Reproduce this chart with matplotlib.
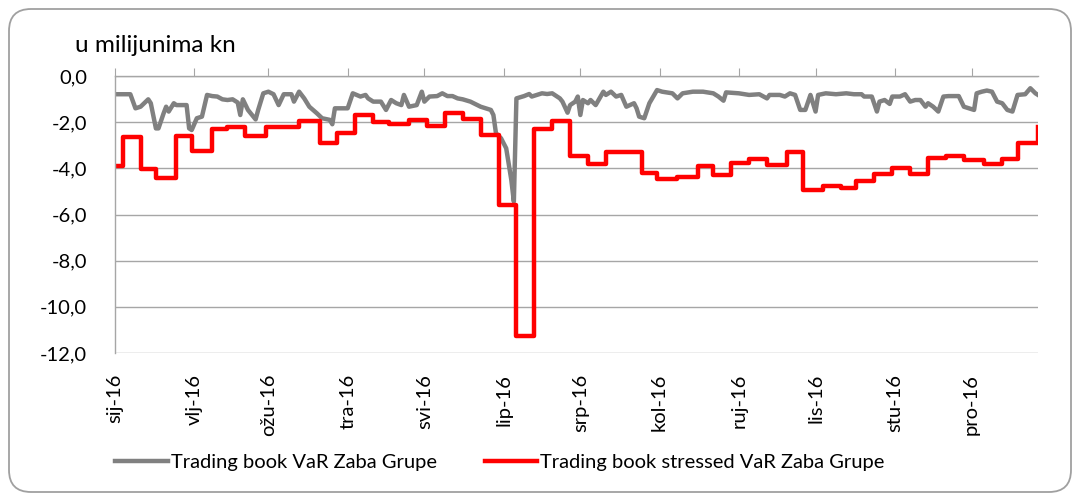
import pandas as pd
import matplotlib
matplotlib.use('Agg')
import matplotlib.pyplot as plt
from matplotlib.patches import FancyBboxPatch

plt.rcParams['font.family'] = ['Lato', 'DejaVu Sans']

# month labels (Croatian short names)
months = ['sij-16', 'vlj-16', 'ožu-16', 'tra-16', 'svi-16', 'lip-16',
          'srp-16', 'kol-16', 'ruj-16', 'lis-16', 'stu-16', 'pro-16']

# Trading book VaR: day of year 2016 (0 = 1 Jan) and value in mil. kn
var_day = [0, 6, 8, 10, 13, 14, 16, 17, 19, 20, 21, 23, 24, 28, 29, 30, 32, 34,
           36, 38, 40, 42, 44, 46, 48, 49, 50, 52, 55, 56, 58, 60, 62, 64, 66,
           69, 70, 72, 74, 76, 79, 81, 84, 85, 86, 91, 93, 96, 98, 99, 101,
           104, 106, 108, 110, 112, 113, 115, 118, 120, 121, 123, 126, 128,
           130, 132, 134, 136, 139, 143, 147, 148, 149, 151, 153, 155, 156,
           157, 160, 162, 163, 165, 167, 169, 171, 174, 175, 177, 178, 180,
           181, 182, 183, 185, 186, 188, 191, 192, 194, 196, 198, 200, 203,
           204, 205, 207, 209, 212, 214, 218, 220, 222, 226, 230, 234, 236,
           238, 239, 244, 248, 252, 255, 256, 260, 262, 264, 266, 268, 270,
           272, 274, 275, 278, 282, 286, 289, 292, 293, 296, 298, 299, 301,
           303, 304, 307, 309, 311, 313, 315, 317, 318, 320, 322, 324, 326,
           330, 332, 334, 336, 337, 339, 341, 343, 345, 347, 349, 351, 353,
           356, 358, 360, 361]
var_val = [-0.79, -0.79, -1.40, -1.33, -1.01, -1.18, -2.27, -2.27, -1.62, -1.33,
           -1.54, -1.18, -1.26, -1.26, -2.27, -2.34, -1.83, -1.76, -0.82, -0.87,
           -0.89, -1.01, -1.04, -1.01, -1.15, -1.69, -1.01, -1.47, -1.88, -1.47,
           -0.75, -0.68, -0.79, -1.26, -0.79, -0.79, -1.11, -0.68, -0.97, -1.33,
           -1.62, -1.83, -1.90, -2.09, -1.40, -1.40, -0.75, -0.89, -0.82, -0.97,
           -1.11, -1.11, -1.47, -1.04, -1.18, -1.26, -0.82, -1.33, -1.26, -0.68,
           -1.11, -0.89, -0.87, -0.75, -0.87, -0.87, -0.97, -1.01, -1.11, -1.33,
           -1.47, -1.69, -2.48, -2.70, -3.13, -4.50, -5.44, -0.97, -0.87, -0.78,
           -0.89, -0.82, -0.75, -0.78, -0.75, -0.97, -1.11, -1.59, -1.26, -1.11,
           -0.89, -1.69, -1.04, -1.18, -1.04, -1.26, -0.68, -0.82, -0.68, -0.89,
           -0.82, -1.33, -1.18, -1.40, -1.76, -1.83, -1.18, -0.61, -0.68, -0.75,
           -0.97, -0.75, -0.68, -0.68, -0.75, -0.89, -1.07, -0.71, -0.75, -0.82,
           -0.79, -0.97, -0.82, -0.82, -0.89, -0.75, -0.82, -1.47, -1.47, -0.82,
           -1.54, -0.82, -0.75, -0.79, -0.75, -0.79, -0.79, -0.89, -0.89, -1.54,
           -1.11, -1.04, -1.21, -0.89, -0.89, -0.79, -1.11, -1.04, -1.04, -1.33,
           -1.18, -1.33, -1.54, -0.89, -0.87, -0.87, -1.33, -1.40, -1.47, -0.75,
           -0.68, -0.63, -0.68, -1.11, -1.18, -1.47, -1.54, -0.82, -0.79, -0.53,
           -0.75, -0.82]

# Trading book stressed VaR: day where a new level starts, and that level
svar_day = [0, 3, 10, 16, 24, 30, 38, 44, 51, 59, 72, 80, 87, 94, 101, 107, 115,
            122, 129, 136, 143, 150, 157, 164, 171, 178, 185, 192, 206, 212, 220,
            228, 234, 241, 248, 255, 263, 269, 277, 284, 290, 297, 304, 311, 318,
            325, 332, 340, 347, 353, 361]
svar_val = [-3.90, -2.65, -4.03, -4.43, -2.60, -3.23, -2.28, -2.19, -2.60, -2.19,
            -1.95, -2.89, -2.45, -1.69, -1.98, -2.10, -1.90, -2.15, -1.59, -1.87,
            -2.55, -5.58, -11.26, -2.31, -1.95, -3.46, -3.82, -3.30, -4.21, -4.47,
            -4.36, -3.88, -4.31, -3.78, -3.59, -3.85, -3.30, -4.94, -4.75, -4.86,
            -4.55, -4.26, -3.97, -4.24, -3.54, -3.46, -3.64, -3.81, -3.59, -2.89,
            -2.19]

start = pd.Timestamp('2016-01-01')
var_dates = start + pd.to_timedelta(var_day, unit='D')
svar_dates = start + pd.to_timedelta(svar_day, unit='D')
month_starts = pd.date_range('2016-01-01', periods=12, freq='MS')

fs = 14.5

fig = plt.figure(figsize=(10.79, 5.01), dpi=100)
ax = fig.add_axes([115 / 1079, 1 - 353 / 501, 923 / 1079, 277 / 501])

ax.plot(var_dates, var_val, color='#808080', lw=3.2, label='Trading book VaR Zaba Grupe')
ax.plot(svar_dates, svar_val, color='#FF0000', lw=3.2, drawstyle='steps-post',
        label='Trading book stressed VaR Zaba Grupe')

ax.set_xlim(var_dates[0], var_dates[-1])
ax.set_ylim(-12, 0)
ax.set_yticks(range(-12, 1, 2))
ax.set_yticklabels([f'{v:.1f}'.replace('.', ',') for v in range(-12, 1, 2)], fontsize=fs)
ax.set_xticks(month_starts)
ax.set_xticklabels(months, rotation=90, fontsize=fs, va='top', ha='center')

ax.grid(axis='y', color='#A6A6A6', lw=1.0)
ax.set_axisbelow(True)
for s in ['right', 'bottom']:
    ax.spines[s].set_visible(False)
for s in ['top', 'left']:
    ax.spines[s].set_color('#A6A6A6')
    ax.spines[s].set_linewidth(1.0)
ax.tick_params(axis='y', length=0, pad=20)
ax.tick_params(axis='x', top=True, bottom=False, labeltop=False, labelbottom=True,
               direction='out', length=6, color='#A6A6A6', pad=9)

fig.text(75 / 1079, 1 - 45 / 501, 'u milijunima kn', fontsize=17.5, ha='left', va='center')

fig.legend(loc='center', bbox_to_anchor=(500 / 1079, 1 - 462 / 501), ncol=2,
           frameon=False, fontsize=fs, handlelength=2.6, handletextpad=0.15,
           columnspacing=2.4)

border = FancyBboxPatch((9, 9), 1062, 483, boxstyle='round,pad=0,rounding_size=22',
                        fill=False, edgecolor='#A0A0A0', lw=1.3, transform=None)
fig.patches.append(border)

fig.savefig('out.png', dpi=100)
